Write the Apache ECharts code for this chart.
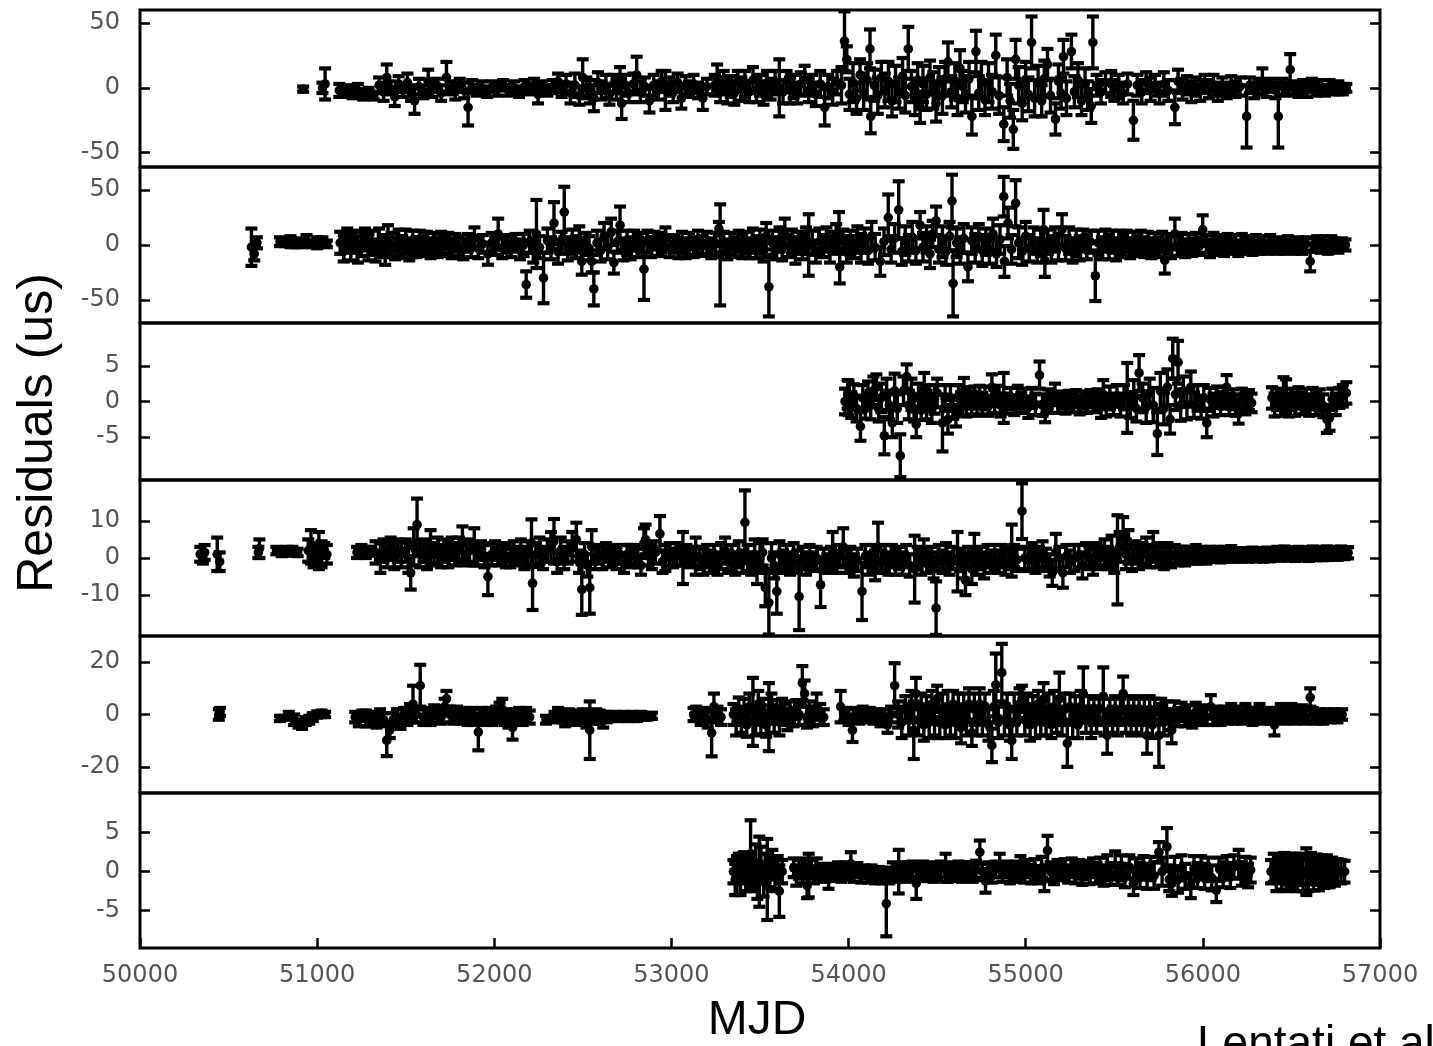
<!DOCTYPE html>
<html>
<head>
<meta charset="utf-8">
<script src="https://cdn.jsdelivr.net/npm/echarts@6/dist/echarts.min.js"></script>
<style>
  html, body { margin: 0; padding: 0; background: #fff; }
  #chart { width: 1433px; height: 1046px; }
</style>
</head>
<body>
<div id="chart"></div>
<script>
// Timing residuals for six pulsars: each entry is [MJD, residual (us), 1-sigma error (us)]
const psr1 = [
  [50921,-1,2],[51030,0,4],[51045,3,12],
  [51125,-2,5],[51150,-3,4],[51175,-1,3],[51200,-4,4],[51230,-2,5],[51260,-5,4],[51290,-3,3],[51320,-6,3],
  [51350,2,6],[51375,-3,7],[51393,8,10],[51410,0,5],[51438,-7,7],[51460,3,6],[51485,-2,5],[51510,4,7],[51530,-4,6],[51550,-10,10],[51575,1,6],[51600,-3,5],[51627,5,9],[51650,-1,6],[51675,2,5],[51700,-4,6],[51730,8,12],[51755,0,5],[51780,-3,6],[51805,2,5],[51830,-2,6],[51852,-15,14],[51875,1,5],[51900,-2,4],[51930,0,5],[51960,-3,4],[51990,1,4],[52020,-1,5],[52050,2,4],[52080,-2,4],[52112,0,5],[52140,-3,4],[52170,1,5],[52200,-1,4],[52225,2,5],[52247,-5,7],[52270,0,5],[52300,-2,4],[52330,1,5],[52360,5,6],[52380,-2,5],
  [52405,3,7],[52430,-4,8],[52455,2,9],[52480,-6,7],[52499,8,14],[52520,0,8],[52540,-3,9],[52562,-8,10],[52585,4,8],[52605,-2,7],[52630,1,9],[52650,-5,8],[52675,3,7],[52690,-1,8],[52710,6,10],[52719,-12,12],[52740,2,8],[52760,-4,7],[52785,3,8],[52804,10,14],[52825,-3,8],[52850,1,7],[52876,-10,9],[52900,2,8],[52925,-2,7],[52945,5,8],[52966,-2,15],[52990,1,7],[53010,-3,8],[53035,4,7],[53056,-8,8],[53080,2,7],[53100,-1,6],[53125,3,7],[53150,-2,6],[53177,-8,9],[53200,1,6],
  [53245,2,8],[53258,8,10],[53275,-3,8],[53295,4,9],[53315,-2,10],[53335,1,8],[53355,-4,9],[53375,5,8],[53395,-1,9],[53415,3,10],[53440,-3,8],[53460,6,10],[53480,-2,9],[53500,2,8],[53520,-4,9],[53540,3,10],[53560,-1,8],[53585,4,9],[53609,0,22],[53630,-3,9],[53650,5,8],[53670,-2,10],[53690,1,9],[53710,-4,8],[53730,3,9],[53752,6,11],[53775,-2,9],[53795,2,8],[53815,-5,9],[53840,3,10],[53865,-15,14],[53885,1,9],[53910,-3,10],[53935,4,9],
  [53960,2,14],[53977,36,23],[53990,22,10],[54005,-5,12],[54025,4,15],[54045,-8,12],[54065,10,12],[54085,-3,14],[54105,6,13],[54121,30,15],[54125,-22,13],[54145,2,12],[54165,-6,14],[54185,8,12],[54205,-2,13],[54225,5,15],[54245,-10,12],[54265,3,14],[54285,-4,12],[54305,9,14],[54320,-6,13],[54337,30,17],[54355,1,12],[54375,-7,14],[54390,6,13],[54404,-15,12],[54420,3,14],[54440,-5,12],[54460,8,13],[54478,-2,14],[54494,-12,14],[54510,4,12],[54530,-6,14],[54545,7,13],[54561,20,15],[54580,-3,12],[54600,5,14],[54615,-8,13],[54629,15,14],[54645,1,12],[54660,-5,14],[54680,7,13],[54696,-22,14],[54719,28,16],[54735,-4,13],[54750,6,14],[54770,-9,12],[54790,4,15],[54810,-3,13],[54831,25,16],[54850,-6,14],[54876,-28,13],[54895,8,14],[54912,-10,13],[54930,-32,15],[54943,22,15],[54960,2,14],[54980,-12,13],[55000,6,14],[55015,-5,13],[55033,35,20],[55050,-8,14],[55070,4,13],[55090,-10,12],[55105,7,14],[55123,18,12],[55140,-6,13],[55168,-24,12],[55185,5,13],[55200,-4,12],[55213,24,13],[55230,-8,13],[55258,28,13],[55275,-3,12],[55295,6,13],[55315,-10,11],[55335,3,12],[55350,-6,11],[55370,-14,13],[55379,35,20],
  [55400,2,8],[55425,-3,9],[55450,4,8],[55483,3,10],[55500,-2,8],[55525,1,9],[55550,-4,8],[55575,3,8],[55608,-25,15],[55630,2,8],[55655,-3,9],[55680,4,8],[55705,-1,9],[55730,2,8],[55755,-4,8],[55780,3,9],[55805,-2,8],[55842,-15,13],[55860,5,9],[55885,-1,8],[55910,2,7],[55935,-3,8],[55960,1,7],[55985,-2,8],[56010,3,7],[56035,-1,7],[56060,2,8],[56085,-3,7],[56110,1,7],[56135,-2,6],[56160,2,7],[56185,-1,6],[56210,1,7],[56247,-22,24],[56265,2,6],[56290,-2,6],[56315,1,6],[56336,5,10],[56360,-1,6],[56385,2,5],[56410,-2,6],[56426,-22,24],[56450,1,6],[56475,-1,5],[56493,14,12],[56515,0,5],[56540,-2,5],[56565,1,5],[56590,-1,6],[56615,2,5],[56640,-1,5],[56665,1,5],[56690,-2,4],[56715,1,5],[56740,-1,4],[56765,0,5],[56790,-1,4],[56810,0,3]
];

const psr2 = [
  [50629,-2,17],[50645,-8,6],[50660,2,5],
  [50790,3,4],[50820,2,3],[50850,3,5],[50880,1,3],[50910,2,4],[50940,4,5],[50970,1,3],[51000,2,5],[51030,3,4],[51055,1,3],
  [51130,2,10],[51150,-3,12],[51170,4,11],[51190,-1,13],[51210,3,10],[51230,-4,12],[51250,1,11],[51270,5,10],[51290,-2,12],[51310,2,11],[51330,-5,10],[51350,3,12],[51370,-1,10],[51384,-6,12],[51400,4,14],[51420,0,11],[51440,-3,10],[51460,2,12],[51480,-2,10],[51500,3,11],[51520,-4,10],[51540,1,12],[51560,-2,9],[51580,3,10],[51600,-1,9],[51620,2,10],[51640,-3,9],[51660,1,10],[51680,-2,9],[51700,2,10],[51720,-1,9],[51740,1,10],[51760,-3,9],[51780,2,8],[51800,-1,9],
  [51825,-4,9],[51850,2,8],[51870,-2,9],[51888,6,10],[51910,-3,9],[51935,1,8],[51964,-8,10],[51985,2,9],[52005,-1,8],[52022,10,14],[52045,-3,9],[52070,1,8],[52095,-2,9],[52120,2,8],[52145,-4,9],
  [52165,0,10],[52180,-36,12],[52200,3,10],[52220,-5,11],[52238,10,31],[52255,-2,10],[52278,-30,23],[52300,4,11],[52320,-3,10],[52337,20,19],[52360,-6,11],[52380,2,10],[52395,30,23],[52415,-4,10],[52440,3,11],[52460,-2,10],[52480,5,12],[52494,-15,12],[52515,1,10],[52535,-3,11],[52550,-15,10],[52562,-40,15],[52580,2,11],[52600,-5,10],[52620,8,12],[52640,-2,11],[52660,12,12],[52675,-16,10],[52695,3,10],[52710,18,17],[52730,-4,10],[52750,2,11],[52770,-3,10],[52790,4,9],[52810,-1,10],[52830,2,9],[52845,-22,28],[52865,3,10],[52885,-2,9],[52905,4,8],[52925,-1,9],
  [52945,2,9],[52966,6,10],[52990,-2,9],[53015,1,8],[53040,-3,9],
  [53060,2,10],[53080,-3,9],[53100,1,10],[53125,-2,9],[53150,3,10],[53175,-1,9],[53200,2,10],[53225,-3,9],[53250,1,10],[53268,15,6],[53275,-9,46],[53295,2,10],[53315,-4,9],[53335,1,10],[53355,-2,9],[53380,3,10],[53400,-1,11],[53420,2,10],[53440,-3,9],[53460,4,11],[53480,-2,10],[53500,3,11],[53520,-5,10],[53535,8,12],[53550,-38,27],[53570,2,11],[53590,-3,10],[53610,5,11],[53625,-4,10],[53640,12,12],[53660,-1,10],[53680,3,11],[53700,-5,12],[53720,2,10],[53740,-2,11],[53760,4,12],[53775,0,28],[53795,2,11],[53815,-6,10],[53835,3,12],[53855,-1,10],[53875,5,11],[53895,-4,12],[53915,2,10],[53930,8,11],[53946,12,18],[53950,-20,15],[53970,3,11],[53990,-4,12],[54010,2,11],[54030,-2,10],
  [54050,5,12],[54070,-3,13],[54090,4,11],[54110,-5,12],[54130,8,13],[54150,-2,12],[54179,-15,13],[54200,3,12],[54224,25,21],[54240,-4,12],[54260,6,13],[54283,32,26],[54300,-6,12],[54320,4,13],[54340,-3,12],[54360,7,14],[54380,-5,12],[54404,18,12],[54420,-2,13],[54440,5,12],[54460,-8,13],[54475,10,12],[54494,22,13],[54510,-4,12],[54530,3,14],[54550,-6,12],[54570,8,13],[54584,40,24],[54590,-35,30],[54610,2,13],[54630,-5,12],[54650,6,13],[54674,-20,13],[54695,4,12],[54715,-3,13],[54735,7,12],[54755,-5,14],[54775,3,12],[54795,-4,13],[54815,10,14],[54835,-8,12],[54855,5,13],[54876,44,18],[54880,-15,14],[54900,20,14],[54920,-4,13],[54943,38,21],[54960,2,14],[54980,-6,12],[55000,8,13],[55020,-3,12],
  [55045,4,12],[55065,-5,11],[55085,2,12],[55101,14,18],[55108,-14,15],[55125,3,11],[55145,-4,12],[55165,5,11],[55185,-2,12],[55205,14,14],[55225,-3,11],[55245,4,12],[55265,-5,11],[55285,2,12],[55305,-3,11],[55325,4,10],[55345,-2,11],[55365,3,10],[55393,-28,23],[55410,2,11],[55430,-3,10],[55450,4,10],[55470,-2,11],[55490,3,10],[55510,-4,10],[55530,2,11],[55550,-1,10],[55570,3,10],[55590,-3,9],[55610,2,10],[55630,-1,9],[55650,3,10],[55670,-2,9],[55690,2,10],[55710,-3,9],[55730,1,10],[55750,-2,9],[55770,3,9],[55785,-14,12],[55800,1,9],[55820,-2,10],[55842,10,14],[55860,-1,9],[55880,2,9],[55900,-3,8],[55920,1,9],[55940,-2,8],[55960,2,9],[55980,-1,8],[55999,14,13],[56020,1,8],[56040,-3,8],[56060,2,9],[56080,-1,8],[56100,1,8],[56120,-2,8],[56140,2,8],[56160,-1,7],[56180,1,8],[56200,-3,7],[56220,2,8],[56240,-1,7],[56260,1,7],[56280,-2,7],[56300,2,7],[56320,-1,7],[56340,1,7],[56360,-2,6],[56380,2,7],[56400,0,6],[56420,-1,7],[56440,1,6],[56460,-2,6],[56480,2,6],[56500,0,6],[56520,-1,7],[56540,1,6],[56560,-2,6],[56580,1,6],[56606,-15,9],[56625,0,6],[56645,2,6],[56665,-1,6],[56685,1,7],[56705,-2,6],[56725,2,6],[56745,0,6],[56765,-1,6],[56785,1,5],[56805,0,5]
];

const psr3 = [
  [53980,0,1.8],[53995,1,2],[54000,0.5,2.4],[54015,-0.5,1.8],[54030,0.8,1.6],[54045,-1,1.8],[54067,-3.5,2],[54080,0.5,1.8],[54095,-0.8,1.6],[54110,1,1.8],[54125,-0.5,2],[54140,1.5,2],[54157,2,1.8],[54170,-1,1.8],[54185,0.5,2],[54202,-4.8,2.6],[54215,1,2.2],[54230,-0.5,2],[54247,-3,2],[54260,1.5,2.4],[54275,-1,2],[54292,-7.6,3],[54310,1.5,2],[54328,3.5,1.7],[54340,-0.5,2],[54355,1,2.2],[54370,-1,1.8],[54382,-3.2,1.8],[54395,0.5,2],[54410,-0.8,1.8],[54427,1.8,2.2],[54440,-0.5,2],[54455,0.5,1.8],[54470,-1,2],[54485,0.3,2],[54500,1.2,2],[54530,-3,4],[54545,0.5,1.8],[54561,-2.5,2],[54575,0.5,1.8],[54590,-0.8,1.6],[54606,-2,1.5],[54620,0.5,1.8],[54635,-0.3,1.6],[54651,1.5,1.8],[54665,-0.5,1.6],[54680,0.5,1.5],[54695,-0.2,1.6],[54710,0.6,1.5],[54725,-0.4,1.6],[54740,0.8,1.4],[54755,-0.3,1.5],[54770,0.5,1.6],[54790,-0.6,1.4],[54809,2,1.8],[54825,0,1.6],[54840,0.8,1.4],[54858,-0.5,1.6],[54876,0.5,3.5],[54895,-0.3,1.4],[54915,0.4,1.5],[54935,-0.5,1.4],[54955,0.6,1.6],[54975,-0.2,1.4],[54995,0.3,1.5],[55015,-0.8,1.5],[55035,0.5,1.4],[55055,-0.4,1.5],[55078,3.7,1.9],[55095,-0.5,1.5],[55110,-1.5,1.4],[55125,0.4,1.3],[55145,-0.2,1.4],[55165,1,1.5],[55185,-0.3,1.3],[55205,0.2,1.2],[55225,-0.4,1.3],[55245,0.3,1.2],[55265,-0.2,1.3],[55285,0.4,1.2],[55305,-0.5,1.3],[55325,0.2,1.2],[55345,-0.3,1.3],[55365,0.4,1.2],[55385,-0.2,1.3],[55405,0.3,1.4],[55425,-0.8,1.5],[55438,1,2],[55455,-0.6,1.5],[55475,0.5,1.6],[55495,-0.4,1.5],[55515,0.8,1.5],[55535,-0.5,1.6],[55555,0.6,1.7],[55573,0.5,4.9],[55590,-0.5,1.8],[55610,1,2],[55625,-1,1.8],[55640,4,2.5],[55660,0.5,2],[55680,-0.8,2.2],[55700,1.2,2],[55720,-0.5,2.4],[55743,-4.5,3],[55760,1.5,2.5],[55780,-1,2.2],[55800,2,2.5],[55815,-2.5,2],[55830,6,2.8],[55845,1,2.2],[55860,5.5,3],[55875,-0.5,2.2],[55890,1.5,2],[55910,-0.5,2],[55932,2,2.2],[55950,-0.5,1.8],[55970,0.5,1.8],[55990,-0.8,1.6],[56005,0.5,1.8],[56022,-3,2],[56040,0.3,1.6],[56060,-0.5,1.6],[56080,0.6,1.5],[56100,-0.3,1.6],[56118,0.5,1.5],[56134,2,1.7],[56150,-0.4,1.5],[56170,0.3,1.4],[56185,-0.5,1.5],[56202,-1.5,1.6],[56220,0.4,1.4],[56240,-0.3,1.5],[56260,0.2,1.4],[56275,-0.2,1.3],
  [56390,0.5,1.5],[56405,-0.5,1.6],[56420,0.3,1.5],[56440,-0.4,1.6],[56455,1.2,2.2],[56470,0.8,2.3],[56485,-0.5,1.6],[56500,0.3,1.5],[56520,-0.4,1.6],[56540,0.5,1.5],[56560,-0.3,1.5],[56580,0.2,1.6],[56600,-0.5,1.5],[56620,0.4,1.5],[56640,-0.3,1.6],[56660,0.2,1.5],[56680,-0.6,1.6],[56700,-2.5,1.9],[56715,-2.3,1.8],[56730,0.3,1.5],[56750,-0.4,1.5],[56770,0.5,1.4],[56790,0.8,1.5],[56810,1.2,1.5]
];

const psr4 = [
  [50340,1,2],[50355,0,1.5],[50365,1.5,2],[50436,1,4.5],[50450,-1,2.5],
  [50668,1.5,1.5],[50674,2.5,2.5],
  [50770,2,1],[50800,1.5,1],[50830,2,1],[50860,1.8,1.2],[50890,1.5,1],
  [50950,2,3],[50965,3,4.5],[50980,0,2.5],[50995,1,3],[51010,2,5],[51025,1,3.5],[51040,2,2],[51055,1,2.5],
  [51225,1.5,1.5],[51250,2,1.5],[51275,1.5,1.5],[51295,1.8,1.2],
  [51330,1.5,3],[51357,0,4],[51375,2,3],[51395,1,3.5],[51415,2.5,3],[51435,0.5,3.5],[51455,2,3],[51475,1,3.5],[51500,2,3],[51515,0,4],[51528,-4,4.5],[51545,3,5],[51564,9,7],[51580,1,3.5],[51600,2,3],[51620,0.5,3.5],[51640,3,4.5],[51660,1,3],[51680,2,3.5],[51700,0.5,3],[51720,2,3],[51740,1,3.5],[51760,2.5,3],[51780,1,3],[51800,2,3.5],[51820,4,4.5],[51840,1,3],[51860,2,3],[51887,3,5],[51905,1,3],[51925,2,2.5],[51945,0.5,3],[51964,-5,5],[51985,1,3],[52005,2,2.5],[52025,1,3],[52045,1.5,2.5],[52065,0.5,3],[52090,0,2.5],[52110,1.5,3],[52130,0.5,2.5],[52150,2,3],[52170,0,3],[52190,1.5,3],[52210,4,6.4],[52216,-6.8,7.2],[52235,1,3],[52255,2,3.5],[52275,0,3],[52300,2,3],[52320,3,4],[52337,4.5,6],[52355,-1,3],[52375,2,3.5],[52395,0,3],[52415,1.5,3],[52440,3,4],[52463,5,4.5],[52478,-1,3],[52494,-8.5,6.8],[52510,1,3],[52525,-2,3],[52539,-8,7],[52550,3,4.5],[52570,0,3],[52590,1,2.5],[52610,0,3],[52630,1.5,2.5],[52650,0.5,3],[52670,1,2.5],[52690,0,3],[52710,1,2.5],[52732,-1.5,2.5],[52750,1,2.5],[52770,0.5,3],[52790,1,2.5],[52810,0,2.5],[52828,-2,2.5],[52845,4,4],[52854,5,4],[52870,1,3],[52890,0,3],[52910,1.5,3],[52935,6.5,4.8],[52950,-1,3],[52966,0,3.5],[52990,1,3],[53010,0,2.5],[53030,1,3],[53050,0.5,2.5],[53065,0,7],[53085,1,2.5],[53105,0,2.5],[53125,0.5,2.5],[53137,0.5,5],
  [53160,0,3],[53180,-1,3.5],[53200,0.5,3],[53220,-1,3],[53240,0,3.5],[53260,-1.5,3],[53280,0.5,3.5],[53303,2,3.5],[53320,-1,3],[53340,0,3.5],[53360,-1.5,3],[53380,1,3.5],[53400,-1,3],[53415,9.6,8.6],[53430,0,3.5],[53450,-1.5,3],[53470,1,4],[53483,-3,4],[53500,0,4],[53515,1.5,3.5],[53530,-8,5],[53550,-12,8.6],[53565,0,4],[53580,-2,3.5],[53595,-9,6],[53610,1,3.5],[53630,-1,3],[53650,0,3.5],[53670,-1.5,3],[53690,0.5,3.5],[53710,-1,3],[53721,-10.4,9],[53740,0,3],[53760,-1.5,3],[53780,0.5,3],[53800,-1,2.5],[53820,0,3],[53842,-7.2,6],[53860,-0.5,3],[53880,-1.5,2.5],[53900,0,3],[53910,2,5],[53930,-1,3],[53950,0.5,3],[53970,3,5],[53990,-1,3],[54010,0,3],[54030,-2,3],
  [54050,-0.5,3],[54076,-9,7.7],[54095,0.5,3],[54115,-1.5,3],[54135,0,3.5],[54150,-2,4],[54166,3,6.5],[54185,-1,3],[54205,0,3.5],[54225,-1.5,3],[54245,0.5,3],[54265,-1,3.5],[54285,0,3],[54305,-1.5,3],[54325,0.5,3],[54345,-2,3],[54373,-3,9],[54390,0,3],[54410,-1,3.5],[54425,1.5,3.5],[54445,-1,3],[54465,0,3],[54480,-2,3.5],[54494,-13.5,7.2],[54510,0,3.5],[54530,-1,3],[54550,0.5,3.5],[54570,-1.5,3],[54590,0,3],[54615,-1,8],[54630,-0.5,3],[54650,-2,3.5],[54660,-6,4],[54675,0,3],[54696,-3,4],[54710,2,4.5],[54725,-1,3.5],[54745,0,3],[54765,-2,3.5],[54785,0.5,3],[54805,-1,3],[54825,0,3.5],[54845,-1,3],[54865,0.5,3],[54885,-1,3.5],[54905,0,3],[54921,2,7],[54935,0.5,3],[54950,-0.5,3],[54979,12.6,7.5],[54995,0,3],
  [55015,-0.5,3],[55035,0.5,3.5],[55055,-1,3],[55075,0,3],[55095,1,3.5],[55115,-0.5,3],[55135,-2,3],[55150,-4,3.5],[55170,1.5,5],[55190,0,3],[55210,-4,4],[55230,0.5,3],[55250,-1,3],[55275,0,3.5],[55300,0.5,3],[55320,-2,3.5],[55340,1,3],[55360,0,3],[55380,-1,3.5],[55400,1,3],[55420,0,3],[55445,1.5,3.5],[55465,0,3],[55485,2,4],[55500,-1,3],[55518,-0.5,12],[55530,3,4],[55550,6,5],[55565,1,4],[55580,3,4.5],[55600,0,3.5],[55620,1.5,3],[55640,0,3],[55660,1,3],[55680,2,3.5],[55700,0.5,3],[55720,3,4],[55740,0.5,3],[55760,1,3],[55780,0,3],[55800,1,3],[55820,0.5,3],[55842,1,2.5],
  [55860,0.5,2.5],[55880,1,2],[55900,0.5,2.5],[55920,1,2],[55940,0.5,2],[55960,1,2.5],[55980,0.5,2],[56000,1,2],[56020,0.5,2],[56040,1,2],[56060,0.8,1.8],[56080,1,2],[56100,0.6,1.8],[56120,1,2],[56140,0.8,1.8],[56160,1.2,2],[56180,0.8,1.8],[56200,1,1.6],[56220,0.8,1.8],[56240,1,1.6],[56260,0.8,1.8],[56280,1.2,1.6],[56300,0.8,1.7],[56320,1,1.6],[56340,0.8,1.8],[56360,1.2,1.6],[56380,0.8,1.7],[56400,1,1.6],[56420,1.2,1.8],[56440,0.9,1.6],[56460,1.3,1.8],[56480,1,1.7],[56500,1.2,1.6],[56520,1,1.8],[56540,1.4,1.6],[56560,1,1.7],[56580,1.3,1.6],[56600,1,1.8],[56620,1.5,1.6],[56640,1.1,1.7],[56660,1.3,1.6],[56680,1.2,1.8],[56700,1.5,1.6],[56720,1.2,1.7],[56740,1.4,1.6],[56760,1.2,1.7],[56780,1.5,1.6],[56800,1.3,1.6],[56820,1.4,1.5]
];

const psr5 = [
  [50445,0,2],[50452,1,1.5],
  [50790,-1.5,1],[50840,-0.5,1.5],[50870,-2,2],[50895,-3.5,1.5],[50915,-4,1.5],[50935,-2.5,1.5],[50955,-2,1.5],[50975,-1,1.5],[51000,0,1.2],[51025,0.5,1],[51045,0,1],
  [51215,-1,2],[51235,-2,2.5],[51255,-0.5,2],[51275,-1.5,3],[51295,-2,2.5],[51315,-1,2],[51335,-2.5,2.5],[51355,-1,3],[51375,-2,2.5],[51393,-9.9,6],[51410,-6,3],[51430,-2,2.5],[51450,-1,3],[51470,-3,2.5],
  [51490,0,2.5],[51510,-1,3],[51525,1,3],[51541,4,7],[51560,0,3],[51582,11,8],[51600,-1,3],[51620,0,2.5],[51640,-1,3],[51660,1,2.5],[51680,0,3],[51700,-1,2.5],[51720,3,3],[51730,6,3],[51750,0,3],[51770,-1,2.5],[51790,0,3],[51810,-1,2.5],[51830,0,2.5],[51850,-1,3],[51870,0,2.5],[51890,-1,3],[51910,-6.7,7],[51930,0,2.5],[51950,-1,3],[51970,0,2.5],[51990,-1,3],[52010,0,3],[52030,1,3.5],[52045,2,4],[52060,-1,3],[52080,-2,3],[52103,-5,4.6],[52120,-1,3],[52140,0,2.5],[52160,-1,3],[52180,0,2.5],[52200,-1,2.5],
  [52292,-2,1.5],[52340,-1,2],[52360,0,2.5],[52380,-1,2],[52400,-2,2.5],[52420,0,2],[52440,-1,2.5],[52460,-2,2],[52480,-1,2.5],[52500,0,2],[52520,-2,3],[52539,-6,11],[52555,-1,2.5],[52575,0,2],[52595,-1,2.5],[52615,-2,3],[52635,-1,2],[52655,-1,1.5],[52680,-0.5,1.5],[52705,-1,1.5],[52730,-0.5,1.5],[52755,-1,1.5],[52780,-0.5,1.5],[52805,-1,1.5],[52830,-0.5,1.5],[52860,-0.8,1.2],[52890,-0.5,1.2],
  [53125,0,2.5],[53140,1,2],[53165,-1,3],[53185,0,2.5],[53205,-2,3],[53227,-7,9],[53240,3,5],[53260,0,3],[53280,-1,3],
  [53350,0,4],[53365,-3,5],[53380,2,4.5],[53395,-2,5],[53410,1,5],[53425,-4,4.5],[53440,3,5],[53460,1,13],[53475,-3,5],[53490,4,5],[53505,-2,5.5],[53520,1,5],[53535,-4,4.5],[53550,-1,13],[53565,3,5],[53580,-2,5],[53595,1,4.5],[53610,-3,5],[53625,2,4],[53640,0,4],[53655,-2,4],[53670,1,4],[53690,-1,3.5],[53705,2,3.5],[53720,0,4],[53739,12,6.5],[53752,8,5],[53765,-1,4],[53780,1,4],[53800,-1,3.5],[53820,3,5],[53840,0,4],[53860,-1,3],
  [53955,3,6],[53975,0,2.5],[54000,-1,3],[54022,-6,4.5],[54040,0,2.5],[54060,-1,2.5],[54080,0.5,2.5],[54100,-1,2],[54120,0,2.5],[54140,-1,2.5],[54160,0,2],[54180,-2,2.5],[54200,-1,3],[54220,-4,3],[54240,0,3],[54260,11,8.6],
  [54280,0,5],[54300,-3,6],[54320,2,5],[54340,-2,6],[54355,3,6],[54368,-6,11],[54380,8,6],[54395,-2,6],[54410,3,5],[54425,-4,6],[54440,2,5],[54455,-3,6],[54470,4,5],[54485,-2,6],[54500,6,5],[54515,-3,6],[54530,2,6],[54545,-4,5],[54560,3,6],[54575,-2,6],[54590,4,5],[54605,-3,6],[54620,2,6],[54635,-5,6],[54650,3,5],[54665,-2,6],[54680,4,6],[54696,-7,5],[54710,2,6],[54725,-3,5],[54740,4,6],[54755,-2,6],[54770,3,5],[54790,-4,6],[54809,-11.8,6.4],[54820,3,6],[54831,11.3,12],[54845,-3,6],[54865,16,11],[54880,-2,6],[54895,3,5],[54910,-4,6],[54921,-10,7],[54935,2,6],[54950,-3,5],[54965,4,6],[54979,6,5],[54995,-2,6],[55010,3,5],[55025,-4,6],[55040,2,5],[55055,-3,6],[55070,4,5],[55085,-2,6],[55101,6,6],[55115,-3,5],[55130,2,6],[55145,-4,5],[55160,3,6],[55175,-2,5],[55190,6,10],[55205,-3,5],[55220,2,6],[55235,-11,9],[55250,3,5],[55265,-3,6],[55280,2,5],[55295,-4,5],[55310,3,6],[55325,8,10],[55340,-2,5],[55355,2,5],[55370,-3,6],[55385,1,5],[55400,-2,5],[55415,2,5],[55438,7,11],[55445,-3,5],[55460,-8,7],[55475,1,5],[55490,-2,5],[55505,2,5],[55520,-3,5],[55535,1,5],[55550,8,6.5],[55565,-2,5],[55580,2,5],[55595,-3,5],[55610,1,5],[55625,-2,5],[55640,2,5],[55655,-3,5],[55670,1,5],[55685,-8,7],[55700,2,5],[55715,-4,5],[55730,1,5],[55752,-8,12],[55765,2,4],[55780,-3,5],[55795,1,4],[55810,-2,4],[55824,-6,5],
  [55840,1,4],[55860,-1,3.5],[55880,1,3.5],[55900,-1,3.5],[55920,0,3.5],[55940,-2,3],[55960,1,3.5],[55980,-1,3],[56000,0,3.5],[56020,-1,3],[56045,3,4.4],[56060,-1,3],[56080,0,3],[56100,-1,3],[56120,0,3],[56140,-1,2.5],[56160,1,3],[56180,-1,2.5],[56200,0,3],[56220,-1,2.5],[56240,1,3],[56260,0,2.5],[56280,-1,3],[56300,0,2.5],[56320,1,3],[56340,-1,2.5],[56360,0,2.5],[56380,-1,2.5],[56404,-4,4],[56420,0,2.5],[56440,1,3],[56460,-1,2.5],[56480,0,2.5],[56500,1,3],[56520,-1,2.5],[56540,0,2.5],[56560,1,2.5],[56580,-1,2.5],[56606,6.5,3.5],[56620,0,2.5],[56640,-1,2.5],[56660,0,2],[56680,-1,2.5],[56700,0,2],[56720,-1,2],[56740,0,2],[56760,-1,2],[56786,0,2]
];

const psr6 = [
  [53350,0,1.5],[53360,-1,2],[53370,-0.5,2.5],[53380,0.5,1.8],[53390,-1,2],[53400,0.5,1.8],[53410,1,1.5],[53420,-0.5,2],[53430,0.3,1.8],[53447,2.3,4.3],[53460,-0.5,2],[53475,1,2.5],[53485,-1.5,2],[53496,0,4.5],[53505,1,2.2],[53520,-1.2,2],[53530,0.5,1.8],[53541,-1,5.2],[53555,0,2],[53570,1,1.8],[53585,-0.5,2],[53600,0.5,1.5],[53609,-2.5,3.3],[53625,0,1.5],
  [53690,0.5,1.2],[53705,-0.5,1.3],[53720,0.3,1.2],[53740,0,1.5],[53755,0.5,1.2],[53766,-1.8,1.6],[53775,-0.5,2.8],[53790,0.3,1.2],[53805,-0.5,1],[53820,0.5,1.2],[53840,0,1],[53860,-0.3,1],[53887,-1,1.2],[53900,0,1],[53920,-0.2,1],[53940,0.2,1],[53960,-0.3,1],[53980,0.2,1],[54000,0,1],[54013,1,1.5],[54030,-0.3,1],[54050,0.2,0.9],[54070,-0.4,1],[54090,0,0.8],[54110,-0.5,0.9],[54130,-0.2,1],[54150,-0.6,0.9],[54170,-0.3,0.9],[54190,-0.5,1],[54213,-4.1,4.2],
  [54230,-0.5,1],[54250,0,1.2],[54270,-0.3,1],[54283,0,2.8],[54300,0.2,1],[54320,-0.3,1],[54340,0,1.2],[54360,0.3,1],[54382,-1.5,2],[54400,0,1],[54420,0.3,1],[54440,-0.2,1],[54460,0.2,1],[54480,-0.3,1],[54500,0,1],[54520,0.3,1],[54548,0.5,1.8],[54560,-0.3,1],[54580,0.2,1],[54600,-0.2,1],[54620,0.3,1],[54640,-0.3,1],[54660,0.2,1],[54680,0,1.2],[54700,-0.3,1],[54720,0.3,1.1],[54741,2.5,1.5],[54755,0,1.1],[54773,-1.2,1.5],[54790,0.2,1],[54810,-0.3,1.1],[54830,0.3,1],[54853,0.8,1.5],[54870,-0.2,1.1],[54890,0.3,1],[54910,-0.3,1.2],[54930,0.2,1],[54950,0,1.3],[54970,0.5,1.5],[54990,-0.2,1.2],[55010,0.4,1.1],[55030,-0.3,1.2],[55050,0.3,1.3],[55070,-0.4,1.1],[55090,0.5,1.4],[55105,-1,1.5],[55123,2.7,1.9],[55140,0,1.2],[55160,-0.3,1.3],[55180,0.3,1.2],[55200,0,1.1],[55220,0.3,1.3],[55240,-0.3,1.1],[55260,0.5,1.2],[55280,-0.2,1.3],[55300,0.3,1.2],[55320,-0.4,1.3],[55340,0.2,1.2],[55360,-0.3,1.3],[55380,0.5,1.2],[55400,-0.2,1.3],[55420,0.3,1.5],[55440,-0.5,1.3],[55460,0.5,1.6],[55480,-0.3,1.4],[55505,0.8,1.8],[55520,-0.3,1.4],[55540,0.5,1.6],[55560,-0.5,1.5],[55585,0.6,1.5],[55608,-1.5,1.5],[55625,0.3,1.4],[55645,-0.5,1.6],[55665,0.5,1.5],[55685,-0.6,1.6],[55705,0.4,1.5],[55725,-0.5,1.7],[55752,2.5,1.3],[55770,0,1.8],[55797,3.2,2.4],[55810,-1,1.5],[55825,-1.5,1.6],[55840,0.3,1.6],[55860,-1,1.7],[55880,0.5,1.6],[55900,-0.6,1.6],[55932,-1.8,1.6],[55950,0.4,1.6],[55970,-0.5,1.6],[55990,0.5,1.5],[56010,-0.6,1.6],[56030,0.3,1.5],[56050,-0.8,1.6],[56076,-2.4,1.5],[56095,0.3,1.5],[56115,-0.4,1.6],[56135,0.5,1.5],[56155,-0.5,1.6],[56175,0.6,1.5],[56202,1,1.8],[56220,-0.3,1.5],[56240,0.3,1.6],[56255,-0.5,1.5],[56270,0.2,1.6],
  [56385,0,1.5],[56400,0.5,1.8],[56415,-0.5,2],[56430,0.3,1.8],[56445,-0.3,2],[56460,0.5,1.9],[56475,-0.5,2],[56490,0.3,2],[56505,-0.2,2],[56520,0.4,1.9],[56535,-0.4,2.1],[56550,0.3,2],[56565,-0.3,2.2],[56584,0,3],[56595,-0.5,2],[56610,0.4,2],[56625,-0.3,2.1],[56640,0.3,1.9],[56655,-0.4,2],[56670,0.2,1.9],[56685,-0.3,1.8],[56700,0.3,1.8],[56715,-0.2,1.8],[56730,0.2,1.6],[56745,-0.2,1.6],[56760,0.1,1.5],[56780,0,1.5],[56800,0,1.4]
];

// Axis extents and tick labels
const xTicks = [50000, 51000, 52000, 53000, 54000, 55000, 56000, 57000];
const yRanges = [[-61, 60], [-71, 71], [-11, 11], [-21, 21], [-30, 30], [-9.8, 10.1]];
const yTicks = [[-50, 0, 50], [-50, 0, 50], [-5, 0, 5], [-10, 0, 10], [-20, 0, 20], [-5, 0, 5]];

const panels = [psr1, psr2, psr3, psr4, psr5, psr6];

// Panel layout (pixels)
const panelTop = [10, 167, 323, 480, 636, 793];
const panelHeight = [157, 156, 157, 156, 157, 155];
const LEFT = 140, WIDTH = 1240;
const TITLE_FONT = 'Liberation Sans, Arial, sans-serif';
const TICK_FONT = 'DejaVu Sans, sans-serif';

// Error bar with end caps and a filled dot, clipped to its panel
function renderErrorBar(params, api) {
  const cs = params.coordSys;
  const x = api.value(0), y = api.value(1), e = api.value(2);
  const c = api.coord([x, y]);
  const hi = api.coord([x, y + e]);
  const lo = api.coord([x, y - e]);
  const top = cs.y, bottom = cs.y + cs.height;
  const y1 = Math.max(hi[1], top), y2 = Math.min(lo[1], bottom);
  const capW = 6;
  const children = [{
    type: 'line',
    shape: { x1: c[0], y1: y1, x2: c[0], y2: y2 },
    style: { stroke: '#000', lineWidth: 3.4 }
  }];
  if (hi[1] >= top) children.push({
    type: 'line',
    shape: { x1: c[0] - capW, y1: hi[1], x2: c[0] + capW, y2: hi[1] },
    style: { stroke: '#000', lineWidth: 4.2 }
  });
  if (lo[1] <= bottom) children.push({
    type: 'line',
    shape: { x1: c[0] - capW, y1: lo[1], x2: c[0] + capW, y2: lo[1] },
    style: { stroke: '#000', lineWidth: 4.2 }
  });
  if (c[1] >= top && c[1] <= bottom) children.push({
    type: 'circle',
    shape: { cx: c[0], cy: c[1], r: 4.8 },
    style: { fill: '#000' }
  });
  return { type: 'group', children: children };
}

const grid = [], xAxis = [], yAxis = [], series = [];
panels.forEach(function (data, i) {
  const last = i === panels.length - 1;
  grid.push({
    left: LEFT, width: WIDTH, top: panelTop[i], height: panelHeight[i],
    show: true, borderColor: '#000', borderWidth: 3, backgroundColor: 'transparent'
  });
  xAxis.push({
    gridIndex: i, type: 'value', min: 50000, max: 57000, interval: 1000,
    position: 'bottom',
    axisLine: { show: false, onZero: false },
    splitLine: { show: false },
    axisTick: { show: last, inside: true, length: 10, lineStyle: { color: '#000', width: 2.5 } },
    axisLabel: {
      show: last, customValues: xTicks, margin: 16,
      formatter: function (v) { return String(v); },
      fontSize: 24, color: '#555', fontFamily: TICK_FONT
    }
  });
  const common = {
    gridIndex: i, type: 'value', min: yRanges[i][0], max: yRanges[i][1],
    axisLine: { show: false, onZero: false },
    splitLine: { show: false }
  };
  yAxis.push(Object.assign({}, common, {
    position: 'left',
    axisTick: { inside: true, length: 10, customValues: yTicks[i], lineStyle: { color: '#000', width: 2.5 } },
    axisLabel: {
      customValues: yTicks[i], margin: 20,
      fontSize: 24, color: '#555', fontFamily: TICK_FONT
    }
  }));
  yAxis.push(Object.assign({}, common, {
    position: 'right',
    axisTick: { inside: true, length: 10, customValues: yTicks[i], lineStyle: { color: '#000', width: 2.5 } },
    axisLabel: { show: false }
  }));
  series.push({
    type: 'custom',
    xAxisIndex: i,
    yAxisIndex: 2 * i,
    renderItem: renderErrorBar,
    encode: { x: 0, y: 1 },
    data: data,
    silent: true,
    animation: false
  });
});

const chart = echarts.init(document.getElementById('chart'), null, { renderer: 'canvas' });
chart.setOption({
  backgroundColor: '#fff',
  animation: false,
  grid: grid,
  xAxis: xAxis,
  yAxis: yAxis,
  series: series,
  graphic: [
    {
      type: 'text', x: 38, y: 433, rotation: Math.PI / 2,
      style: { text: 'Residuals (us)', fontSize: 50, fontFamily: TITLE_FONT, fill: '#000', align: 'center', verticalAlign: 'middle' }
    },
    {
      type: 'text', x: 757, y: 1021,
      style: { text: 'MJD', fontSize: 48, fontFamily: TITLE_FONT, fill: '#000', align: 'center', verticalAlign: 'middle' }
    },
    {
      type: 'text', x: 1197, y: 1045,
      style: { text: 'Lentati et al.', fontSize: 46, fontFamily: TITLE_FONT, fill: '#000', align: 'left', verticalAlign: 'middle' }
    }
  ]
});
</script>
</body>
</html>
